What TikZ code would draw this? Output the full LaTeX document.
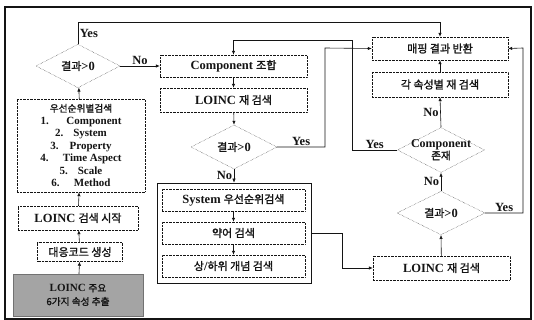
\documentclass[tikz,border=0pt]{standalone}
\usepackage{fontspec}
\setmainfont{Liberation Serif}
\newfontfamily\kr{Noto Sans CJK KR}[Scale=0.88,AutoFakeBold=1.6]
\usepackage{xcolor}
\usepackage{tikz}
\usetikzlibrary{arrows.meta,shapes.geometric}
\definecolor{ink}{HTML}{141414}
\definecolor{shade}{HTML}{A4A4A4}
\tikzset{
  >={Latex[length=4pt,width=3.4pt]},
  every node/.style={font=\fontsize{12.5}{14}\selectfont\bfseries,text=ink},
  box/.style={draw=ink,densely dotted,thin,inner sep=1pt,align=center},
  srcbox/.style={box,solid,draw=ink!60,fill=shade,font=\fontsize{11}{13.5}\selectfont\bfseries},
  grpbox/.style={draw=ink,semithick,inner sep=0pt},
  dec/.style={diamond,draw=ink,densely dotted,thin,inner sep=0pt,align=center},
  listbox/.style={box,font=\fontsize{11}{12.5}\selectfont\bfseries},
  line/.style={->,draw=ink,semithick},
  tag/.style={inner sep=1.5pt},
  frame/.style={draw=ink,very thick}
}
\begin{document}
\begin{tikzpicture}[x=1pt,y=-1pt]
  \useasboundingbox (0,0) rectangle (534,320);
  \draw[frame] (5,7) rectangle (531,319);

  % left column
  \node[srcbox,minimum width=130pt,minimum height=42pt] (src) at (78,295) {LOINC {\kr 주요}\\{\kr 6가지 속성 추출}};
  \node[box,minimum width=85pt,minimum height=19pt] (code) at (80,252) {\kr 대응코드 생성};
  \node[box,minimum width=120pt,minimum height=24pt] (start) at (78,218) {LOINC {\kr 검색 시작}};
  \node[listbox,minimum width=128pt,minimum height=93pt] (prio) at (81,145.5) {{\kr 우선순위별검색}\\
    1.\hspace{1.6em}Component\\2.\hspace{0.9em}System\\3.\hspace{1em}Property\\
    4.\hspace{1.3em}Time Aspect\\5.\hspace{0.9em}Scale\\6.\hspace{1.3em}Method};
  \node[dec,minimum width=84pt,minimum height=40pt] (d1) at (78,66) {{\kr 결과}>0};

  % middle column
  \node[box,minimum width=147pt,minimum height=22pt] (comb) at (233.5,66) {Component {\kr 조합}};
  \node[box,minimum width=147pt,minimum height=24pt] (rs1) at (233.5,100) {LOINC {\kr 재 검색}};
  \node[dec,minimum width=86pt,minimum height=44pt] (d2) at (234,147) {{\kr 결과}>0};
  \node[grpbox,minimum width=154pt,minimum height=100pt] (grp) at (234,233) {};
  \node[box,minimum width=143pt,minimum height=22pt] (sys) at (233.5,200) {System {\kr 우선순위검색}};
  \node[box,minimum width=143pt,minimum height=22pt] (abbr) at (233.5,233) {\kr 약어 검색};
  \node[box,minimum width=143pt,minimum height=22pt] (hier) at (233.5,266) {{\kr 상}/{\kr 하위 개념 검색}};

  % right column
  \node[box,minimum width=136pt,minimum height=23pt] (result) at (440,48.5) {\kr 매핑 결과 반환};
  \node[box,minimum width=136pt,minimum height=25pt] (each) at (440,84.5) {\kr 각 속성별 재 검색};
  \node[dec,minimum width=87pt,minimum height=45pt,
    label={[align=center,font=\fontsize{12}{12}\selectfont\bfseries]center:Component\\{\kr 존재}}] (exist) at (441,150) {};
  \node[dec,minimum width=88pt,minimum height=43pt] (d3) at (441,213) {{\kr 결과}>0};
  \node[box,minimum width=137pt,minimum height=24pt] (rs2) at (441.5,268) {LOINC {\kr 재 검색}};

  \coordinate (yesA) at (78,22);
  \coordinate (yesB) at (325,48);
  \coordinate (yesC) at (523,48);
  \coordinate (yesD) at (352,40);

  \draw[line] (src)--(code); \draw[line] (code)--(start);
  \draw[line] (start)--(prio); \draw[line] (prio)--(d1);
  \draw[line] (d1.north)--(yesA) node[tag,right,midway] {Yes} -| (result.north);
  \draw[line] (d1.east)--(comb.west) node[tag,above,midway] {No};
  \draw[line] (comb)--(rs1); \draw[line] (rs1)--(d2.north);
  \draw[line] (d2.east) -| (yesB) node[tag,above,pos=0.25] {Yes} -- (result.west);
  \draw[line] (d2.south)--(grp.north) node[tag,left,midway] {No};
  \draw[line] (sys)--(abbr); \draw[line] (abbr)--(hier);
  \draw[line] (grp.east) -- ++(31,0) |- (rs2.west);
  \draw[line] (rs2)--(d3.south);
  \draw[line] (d3.north)--(exist.south) node[tag,left,midway] {No};
  \draw[line] (d3.east) -| (yesC) node[tag,above,pos=0.25] {Yes} -- (result.east);
  \draw[line] (exist.north)--(each.south) node[tag,left,midway] {No};
  \draw[line] (each)--(result);
  \draw[line] (exist.west) -| (yesD) node[tag,above,pos=0.25] {Yes} -| (comb.north);
\end{tikzpicture}
\end{document}
